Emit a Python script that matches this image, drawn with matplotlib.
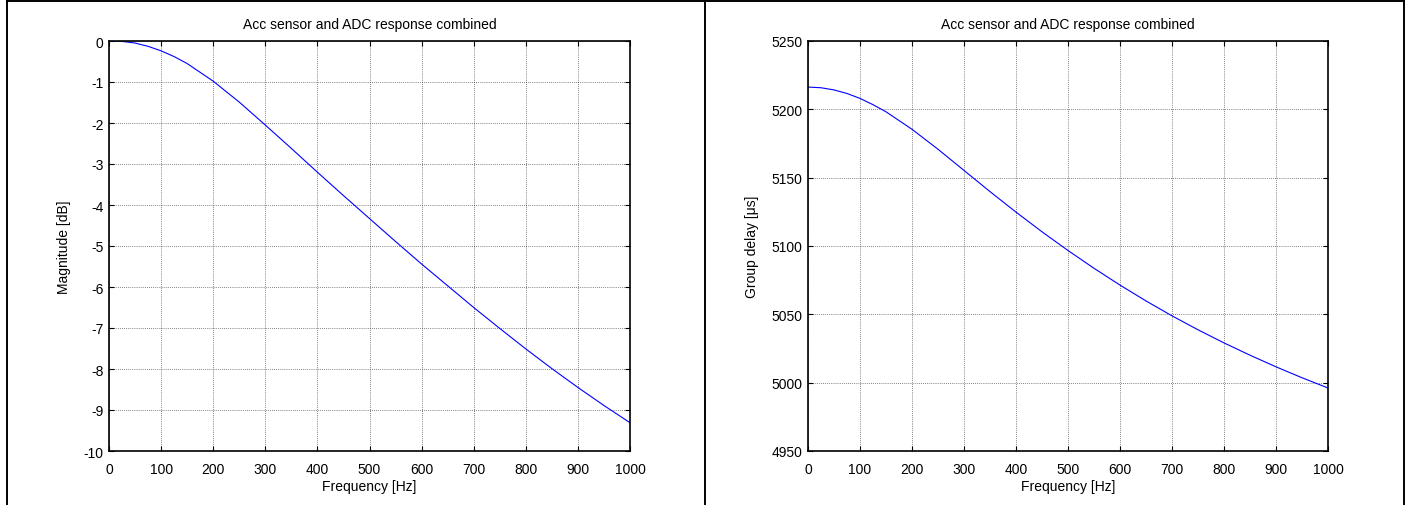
import matplotlib
matplotlib.use('Agg')
import matplotlib.pyplot as plt
from matplotlib.lines import Line2D

plt.rcParams['font.family'] = ['Liberation Sans', 'DejaVu Sans']
plt.rcParams['axes.unicode_minus'] = False

# values
freq = [0, 25, 50, 75, 100, 125, 150, 200, 250, 300, 350, 400, 450, 500,
        550, 600, 650, 700, 750, 800, 850, 900, 950, 1000]
magnitude = [0.0, -0.01, -0.05, -0.13, -0.24, -0.38, -0.55, -0.98, -1.49, -2.05, -2.62, -3.2, -3.77, -4.33,
             -4.89, -5.44, -5.97, -6.5, -7.01, -7.51, -7.99, -8.45, -8.89, -9.31]
group_delay = [5216.3, 5215.8, 5214.2, 5211.6, 5208.0, 5203.4, 5198.2, 5185.4, 5170.8, 5155.3, 5139.8, 5124.8,
               5110.4, 5096.7, 5083.7, 5071.4, 5059.8, 5048.9, 5038.7, 5029.1, 5020.1, 5011.6, 5003.6, 4996.1]

xticks = list(range(0, 1001, 100))
mag_ticks = list(range(-10, 1))
gd_ticks = list(range(4950, 5251, 50))

title = 'Acc sensor and ADC response combined'

W, H = 1410, 506
fig = plt.figure(figsize=(W / 100, H / 100), dpi=100)


def make_axes(left, right, top=42, bottom=452):
    return fig.add_axes([left / W, (H - bottom) / H, (right - left) / W, (bottom - top) / H])


def style(ax, yticks, ylabel):
    ax.set_xlim(0, 1000)
    ax.set_ylim(yticks[0], yticks[-1])
    ax.set_xticks(xticks)
    ax.set_yticks(yticks)
    ax.tick_params(direction='in', top=True, right=True, length=3.5, width=0.8,
                   labelsize=10, colors='black')
    ax.tick_params(axis='x', pad=8)
    ax.tick_params(axis='y', pad=4)
    ax.grid(True, linestyle=(0, (1, 1.5)), color='black', linewidth=0.6, alpha=0.65)
    for s in ax.spines.values():
        s.set_linewidth(1.2)
    ax.set_title(title, fontsize=10, pad=9)
    ax.set_xlabel('Frequency [Hz]', fontsize=10, labelpad=2)
    ax.set_ylabel(ylabel, fontsize=10, labelpad=9)


ax1 = make_axes(109, 630)
ax1.plot(freq, magnitude, color='#0000ff', linewidth=0.8)
style(ax1, mag_ticks, 'Magnitude [dB]')

ax2 = make_axes(808, 1328)
ax2.plot(freq, group_delay, color='#0000ff', linewidth=0.8)
style(ax2, gd_ticks, 'Group delay [\u03bcs]')

# table borders around the two cells
def pline(x0, y0, x1, y1, lw=1.4):
    fig.add_artist(Line2D([x0 / W, x1 / W], [1 - y0 / H, 1 - y1 / H],
                          color='black', linewidth=lw, transform=fig.transFigure))

pline(7, 1.5, 1404, 1.5)
pline(7, 0, 7, H)
pline(705, 0, 705, H)
pline(1404, 0, 1404, H)

fig.savefig('out.png', dpi=100)
